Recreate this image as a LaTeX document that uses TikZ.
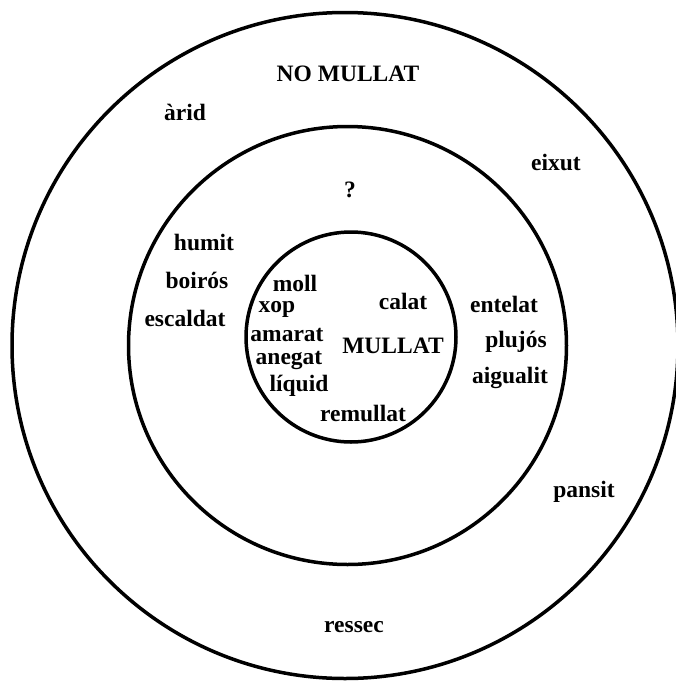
\documentclass[tikz,border=0pt]{standalone}
\usepackage{fontspec}
\setmainfont{Liberation Serif}
\begin{document}
\begin{tikzpicture}[x=1pt,y=-1pt,line width=3.5pt,
	word/.style={font=\fontsize{23.5}{28}\selectfont\bfseries, inner sep=0pt}]

	\useasboundingbox (0,0) rectangle (675,683);

	% rings
	\draw (345,345.5) circle (333);
	\draw (347.5,345.5) circle (219);
	\draw (351,337) circle (105);

	% outer ring
	\node[word] (nomullat) at (348,74){NO MULLAT};
	\node[word] (arid) at (185,112){àrid};
	\node[word] (eixut) at (556,162){eixut};
	\node[word] (pansit) at (584,492){pansit};
	\node[word] (ressec) at (354,627){ressec};

	% middle ring
	\node[word] (dubte) at (350,190){?};
	\node[word] (humit) at (204,242){humit};
	\node[word] (boiros) at (197,280){boirós};
	\node[word] (escaldat) at (185,318){escaldat};
	\node[word] (entelat) at (504,304){entelat};
	\node[word] (plujos) at (516,342){plujós};
	\node[word] (aigualit) at (510,378){aigualit};

	% inner ring
	\node[word] (moll) at (295,283){moll};
	\node[word] (xop) at (277,309){xop};
	\node[word] (amarat) at (287,335){amarat};
	\node[word] (anegat) at (289,360){anegat};
	\node[word] (liquid) at (299,386){líquid};
	\node[word] (remullat) at (363,413){remullat};
	\node[word] (calat) at (403,301){calat};
	\node[word] (mullat) at (393,346){MULLAT};

	%\node[word] at (350,250){sec};
\end{tikzpicture}
\end{document}
